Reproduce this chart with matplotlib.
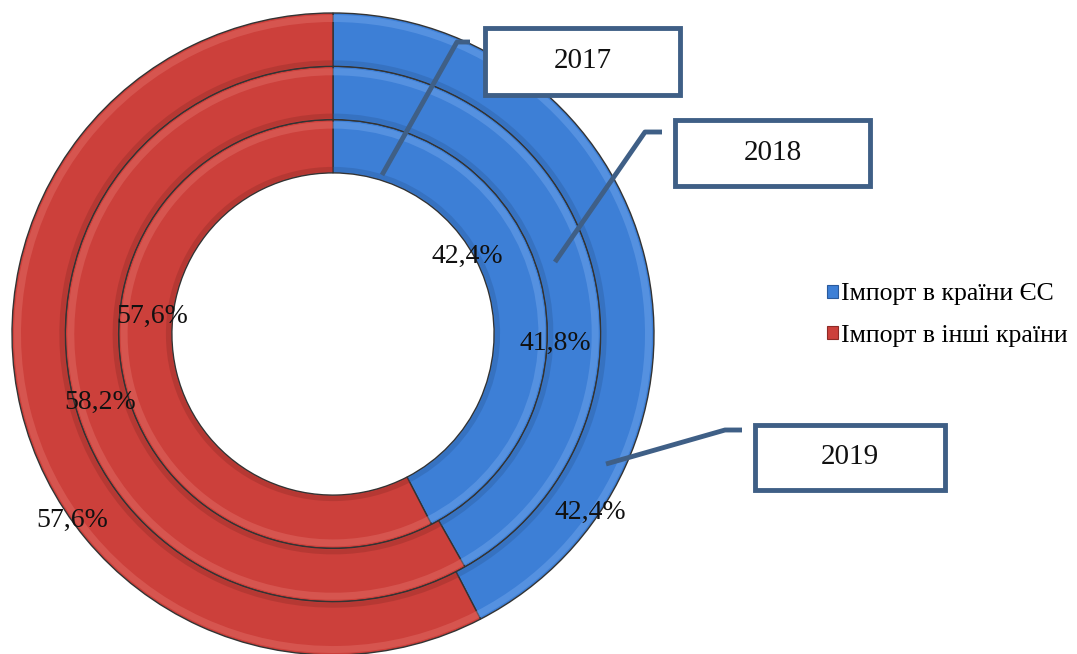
import numpy as np
import matplotlib.pyplot as plt
from matplotlib.patches import Rectangle, Patch

# Дані: частка імпорту (%)
years = ["2017", "2018", "2019"]
eu_share = [42.4, 41.8, 42.4]
other_share = [57.6, 58.2, 57.6]
series_names = ["Імпорт в країни ЄС", "Імпорт в інші країни"]

W, H = 1077, 654
BLUE = "#3d7fd6"
RED = "#cc403b"
BLUE_DARK = "#2a5a9c"
RED_DARK = "#8e2a26"
BOX_EDGE = "#3f5f86"
FONT = "Liberation Serif"


def py(y):
    # пікселі зверху -> координати осі
    return H - y


def fmt(v):
    return f"{v:.1f}".replace(".", ",") + "%"


fig = plt.figure(figsize=(W / 100, H / 100), dpi=100)
ax = fig.add_axes([0, 0, 1, 1])

cx, cy = 333, py(334)
r_out = 321
ring_w = 53.3

# кільця: 2017 всередині, 2019 зовні
for i in range(len(years)):
    r = r_out - (len(years) - 1 - i) * ring_w
    vals = [eu_share[i], other_share[i]]
    ax.pie(vals, colors=[BLUE, RED], radius=r, center=(cx, cy),
           startangle=90, counterclock=False,
           wedgeprops=dict(width=ring_w, edgecolor="#333333", linewidth=1.0))
    # світлий відблиск по зовнішньому краю
    ax.pie(vals, colors=["#6ea3ea", "#e06a64"], radius=r - 2, center=(cx, cy),
           startangle=90, counterclock=False,
           wedgeprops=dict(width=7, linewidth=0, alpha=0.5))
    # темна тінь по внутрішньому краю
    ax.pie(vals, colors=[BLUE_DARK, RED_DARK], radius=r - ring_w + 6, center=(cx, cy),
           startangle=90, counterclock=False,
           wedgeprops=dict(width=5, linewidth=0, alpha=0.35))

ax.set_xlim(0, W)
ax.set_ylim(0, H)
ax.set_aspect("equal")
ax.axis("off")

# підписи значень
eu_pos = [(467, 256), (555, 343), (590, 512)]
other_pos = [(152, 316), (100, 402), (72, 520)]
for i in range(len(years)):
    ax.text(eu_pos[i][0], py(eu_pos[i][1]), fmt(eu_share[i]), ha="center", va="center",
            fontsize=20, family=FONT, color="#111111")
    ax.text(other_pos[i][0], py(other_pos[i][1]), fmt(other_share[i]), ha="center", va="center",
            fontsize=20, family=FONT, color="#111111")

# виноски з роками
boxes = [(485, 28, 680, 95), (675, 120, 870, 186), (755, 425, 945, 490)]
leaders = [[(382, 175), (457, 42), (470, 42)],
           [(555, 262), (645, 132), (662, 132)],
           [(606, 464), (725, 430), (742, 430)]]
for yr, (x0, y0, x1, y1), pts in zip(years, boxes, leaders):
    ax.add_patch(Rectangle((x0, py(y1)), x1 - x0, y1 - y0, facecolor="white",
                           edgecolor=BOX_EDGE, linewidth=3.5, zorder=5))
    ax.text((x0 + x1) / 2, py((y0 + y1) / 2), yr, ha="center", va="center",
            fontsize=21, family=FONT, color="#111111", zorder=6)
    xs = [p[0] for p in pts]
    ys = [py(p[1]) for p in pts]
    ax.plot(xs, ys, color=BOX_EDGE, linewidth=3.5, solid_capstyle="butt", zorder=4)

handles = [Patch(facecolor=BLUE, edgecolor=BLUE_DARK, linewidth=0.8),
           Patch(facecolor=RED, edgecolor=RED_DARK, linewidth=0.8)]
fig.legend(handles, series_names, loc="center left", bbox_to_anchor=(827 / W, 1 - 315 / H),
           frameon=False, prop={"family": FONT, "size": 18.5}, borderpad=0, borderaxespad=0,
           handlelength=0.42, handleheight=0.42, handletextpad=0.12, labelspacing=0.75)

fig.savefig("out.png", dpi=100, facecolor="white")
